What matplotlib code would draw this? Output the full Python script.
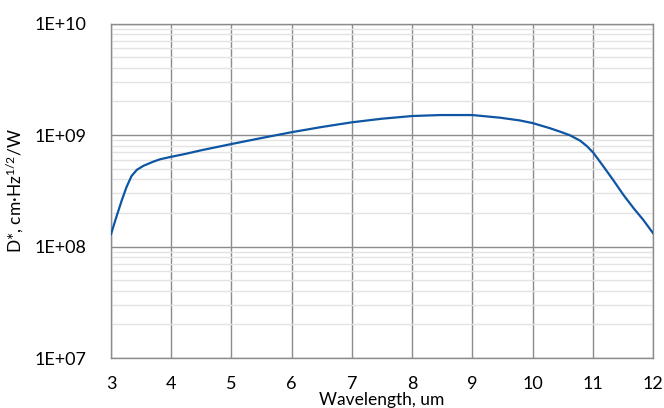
import matplotlib
matplotlib.use("Agg")
import matplotlib.pyplot as plt
from matplotlib.ticker import LogLocator, FixedLocator, NullFormatter

plt.rcParams['font.family'] = ['Lato', 'DejaVu Sans']
plt.rcParams['mathtext.default'] = 'regular'

wavelength = [3.0, 3.09, 3.18, 3.26, 3.34, 3.43, 3.54, 3.70, 3.81, 4.0, 4.23, 4.5,
              5.0, 5.5, 6.0, 6.5, 7.0, 7.5, 8.0, 8.47, 9.0, 9.46, 9.79, 10.0,
              10.29, 10.46, 10.62, 10.79, 10.90, 11.01, 11.18, 11.34, 11.51, 11.68,
              11.84, 12.0]
detectivity = [1.29e8, 1.85e8, 2.61e8, 3.44e8, 4.28e8, 4.88e8, 5.3e8, 5.76e8, 6.05e8,
               6.38e8, 6.76e8, 7.3e8, 8.3e8, 9.4e8, 1.06e9, 1.18e9, 1.30e9, 1.40e9,
               1.48e9, 1.51e9, 1.51e9, 1.43e9, 1.35e9, 1.28e9, 1.15e9, 1.07e9,
               9.95e8, 8.9e8, 7.97e8, 6.93e8, 5.2e8, 3.94e8, 2.9e8, 2.2e8, 1.73e8, 1.32e8]
x_ticks = [3, 4, 5, 6, 7, 8, 9, 10, 11, 12]
y_ticks = [1e7, 1e8, 1e9, 1e10]
y_tick_labels = ['1E+07', '1E+08', '1E+09', '1E+10']

fig = plt.figure(figsize=(6.64, 4.08), dpi=100)
ax = fig.add_axes([0.1672, 0.1225, 0.8162, 0.8199])

ax.plot(wavelength, detectivity, color='#0E56A3', lw=1.6, zorder=3,
        solid_joinstyle='round')

ax.set_yscale('log')
ax.set_xlim(3, 12)
ax.set_ylim(1e7, 1e10)
ax.xaxis.set_major_locator(FixedLocator(x_ticks))
ax.yaxis.set_major_locator(FixedLocator(y_ticks))
ax.set_yticklabels(y_tick_labels)
ax.yaxis.set_minor_locator(LogLocator(base=10, subs=range(2, 10)))
ax.yaxis.set_minor_formatter(NullFormatter())

ax.grid(which='major', color='#8c8c8c', lw=1.0, zorder=1)
ax.grid(which='minor', axis='y', color='#e3e3e3', lw=1.0, zorder=0)
for s in ax.spines.values():
    s.set_color('#8c8c8c')
    s.set_linewidth(1.0)

ax.tick_params(which='both', length=0, labelsize=13, colors='black')
ax.tick_params(axis='x', pad=13)
ax.tick_params(axis='y', pad=18)

ax.set_xlabel('Wavelength, um', fontsize=12.5, labelpad=0)
ax.set_ylabel('D*, cm·Hz$^{1/2}$/W', fontsize=12.5, labelpad=6)

fig.savefig('out.png', dpi=100)
